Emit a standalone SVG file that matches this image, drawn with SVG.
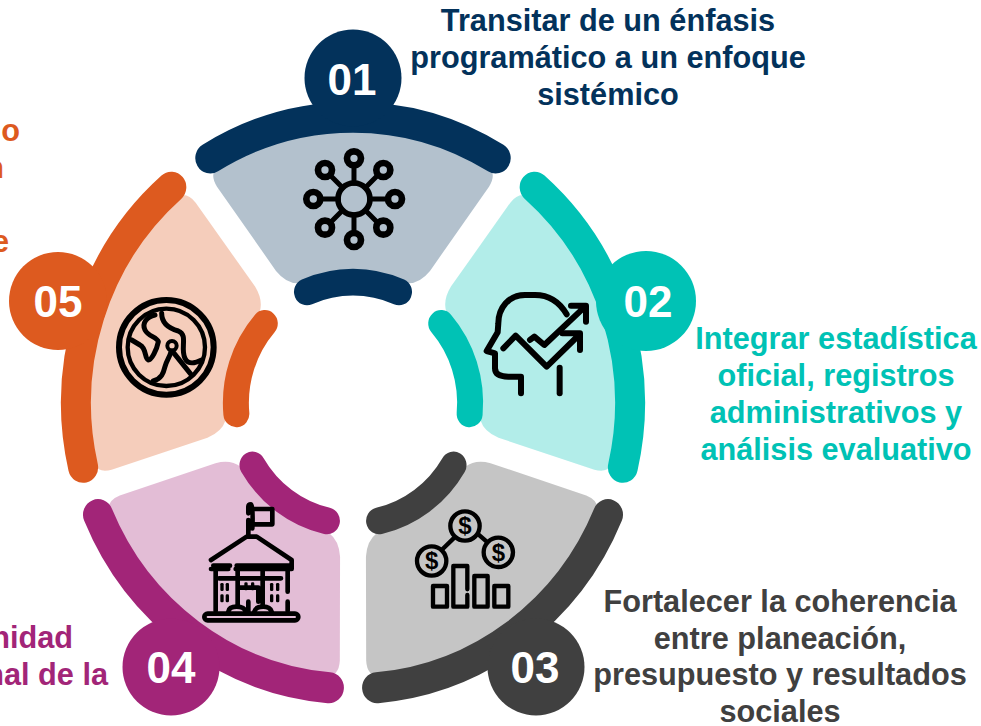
<svg xmlns="http://www.w3.org/2000/svg" width="981" height="726" viewBox="0 0 981 726">
<style>
text{font-family:"Liberation Sans",Arial,sans-serif;font-weight:700}
.lab{font-size:30.7px;text-anchor:middle;fill:currentColor}
.labe{font-size:30.7px;text-anchor:end;fill:currentColor}
.num{font-size:44px;text-anchor:middle;fill:#fff}
.ic{fill:none;stroke:#000;stroke-linecap:round;stroke-linejoin:round}
.c1{color:#03325B}.c2{color:#00C2B5}.c3{color:#404040}.c4{color:#A22578}.c5{color:#DD5A1F}
.dot{fill:#000;stroke:none}
.dollar{font-size:72px;text-anchor:middle;fill:#000}
</style>
<defs>
<path id="light" fill="currentColor" fill-opacity=".3" d="M-122-236A270 270 0 0 1 122-236Q148-228 136-209.600L77-128Q67-116 55-116L-55-116Q-67-116-77-128L-136-209.600Q-148-228-122-236Z"/>
<path id="outer" fill="none" stroke="currentColor" stroke-width="30" stroke-linecap="round" d="M-142.700-237.400A277 277 0 0 1 142.700-237.400"/>
<path id="inner" fill="none" stroke="currentColor" stroke-width="26" stroke-linecap="round" d="M-46-107.700A117 117 0 0 1 46-107.700"/>
</defs>
<g id="connectors"></g>

<g id="node-01" class="c1">
<g transform="translate(353 403) scale(1 1.032)"><use href="#light"/><use href="#outer"/><use href="#inner"/></g>
<circle cx="353" cy="78" r="48.500" fill="currentColor"/>
<text class="num" x="352" y="95">01</text>
<g class="ic" transform="translate(180 20) scale(.3333)" stroke-width="15">
<circle cx="522" cy="537" r="48" stroke-width="17"/>
<path d="M522 440V490M522 584V640M424 537H475M569 537H625M453 468L488 503M591 468L556 503M453 606L488 571M591 606L556 571"/>
<g stroke-width="20">
<circle cx="522" cy="415" r="21"/><circle cx="610" cy="450" r="21"/><circle cx="645" cy="537" r="21"/><circle cx="610" cy="623" r="21"/><circle cx="522" cy="660" r="21"/><circle cx="435" cy="623" r="21"/><circle cx="400" cy="537" r="21"/><circle cx="435" cy="450" r="21"/>
</g>
</g>
<text class="lab" x="608" y="31">Transitar de un énfasis</text>
<text class="lab" x="608" y="68">programático a un enfoque</text>
<text class="lab" x="608" y="105">sistémico</text>
</g>

<g id="node-02" class="c2">
<g transform="translate(353 403) scale(1 1.032) rotate(72)"><use href="#light"/><use href="#outer"/><use href="#inner"/></g>
<circle cx="646" cy="301" r="50" fill="currentColor"/>
<text class="num" x="648" y="317">02</text>
<g class="ic" transform="translate(475 285) scale(.3333)" stroke-width="18">
<path d="M275 88C250 45 215 30 180 30L150 30C100 30 70 70 70 115L68 142L35 198L60 205L60 250C60 270 80 275 100 275L138 275L138 325"/>
<path d="M85 190L122 152L215 245L312 150M262 145L315 145L315 195"/>
<path d="M165 165L178 155L208 180L330 65M288 62L333 62L333 110"/>
<path d="M254 248V325"/>
</g>
<text class="lab" x="836" y="349">Integrar estadística</text>
<text class="lab" x="836" y="386">oficial, registros</text>
<text class="lab" x="836" y="423">administrativos y</text>
<text class="lab" x="836" y="460">análisis evaluativo</text>
</g>

<g id="node-03" class="c3">
<g transform="translate(353 403) scale(1 1.032) rotate(144)"><use href="#light"/><use href="#outer"/><use href="#inner"/></g>
<circle cx="536" cy="667" r="48.500" fill="currentColor"/>
<text class="num" x="535" y="683">03</text>
<g class="ic" transform="translate(405 500) scale(.3333)" stroke-width="13">
<circle cx="180" cy="78" r="44"/><circle cx="80" cy="183" r="44"/><circle cx="280" cy="157" r="44"/>
<path d="M145 116L110 150M220 103L246 126"/>
<rect x="84" y="258" width="42" height="62"/>
<path d="M166 320H145V198H187V268M187 285V320H166"/>
<rect x="208" y="228" width="40" height="92"/>
<rect x="268" y="258" width="42" height="62"/>
</g>
<g transform="translate(405 500) scale(.3333)">
<text class="dollar" x="180" y="103">$</text><text class="dollar" x="80" y="208">$</text><text class="dollar" x="280" y="182">$</text>
</g>
<text class="lab" x="780" y="612">Fortalecer la coherencia</text>
<text class="lab" x="780" y="649">entre planeación,</text>
<text class="lab" x="780" y="685">presupuesto y resultados</text>
<text class="lab" x="780" y="722">sociales</text>
</g>

<g id="node-04" class="c4">
<g transform="translate(353 403) scale(1 1.032) rotate(216)"><use href="#light"/><use href="#outer"/><use href="#inner"/></g>
<circle cx="171" cy="667" r="48.500" fill="currentColor"/>
<text class="num" x="171" y="683">04</text>
<g class="ic" transform="translate(195 495) scale(.3333)" stroke-width="14">
<path d="M160 122V75M160 55V35Q160 28 168 28Q175 35 172 100"/>
<path d="M175 42H232V88H175"/>
<path d="M48 195L155 125H185L290 195V222H122M100 222H48Z"/>
<path d="M55 212H105M125 212H285"/>
<path d="M62 225V348M278 225V290M278 320V348M128 228V335M203 228V335M72 250H258M130 278H190V320M160 320V350"/>
<path d="M100 350Q102 335 125 335Q148 335 152 350M178 350Q182 335 205 335Q225 335 230 350"/>
<rect x="28" y="356" width="282" height="20" rx="10"/>
<rect class="dot" x="76" y="264" width="10" height="24" rx="4"/><rect class="dot" x="92" y="264" width="10" height="24" rx="4"/>
<rect class="dot" x="76" y="298" width="10" height="24" rx="4"/><rect class="dot" x="92" y="298" width="10" height="24" rx="4"/>
<rect class="dot" x="148" y="262" width="10" height="24" rx="4"/><rect class="dot" x="168" y="262" width="10" height="24" rx="4"/>
<rect class="dot" x="225" y="264" width="10" height="24" rx="4"/><rect class="dot" x="243" y="264" width="10" height="24" rx="4"/>
<rect class="dot" x="225" y="298" width="10" height="24" rx="4"/><rect class="dot" x="243" y="298" width="10" height="24" rx="4"/>
</g>
<text class="labe" x="73" y="648">nidad</text>
<text class="labe" x="108" y="685">nal de la</text>
</g>

<g id="node-05" class="c5">
<g transform="translate(353 403) scale(1 1.032) rotate(288)"><use href="#light"/><use href="#outer"/><use href="#inner"/></g>
<circle cx="58" cy="301" r="49" fill="currentColor"/>
<text class="num" x="58" y="317">05</text>
<g class="ic" transform="translate(105 295) scale(.3333)" stroke-width="15">
<circle cx="184" cy="157" r="142" stroke-width="18"/>
<circle cx="184" cy="157" r="116" stroke-width="13"/>
<path d="M150 60C125 65 110 85 120 105C130 125 155 125 160 140C155 165 140 195 130 195C118 190 125 160 105 150L80 135"/>
<path d="M170 55C170 85 190 100 220 108C250 120 225 160 240 190C250 210 270 205 290 195"/>
<path d="M145 258C170 250 175 235 180 215C185 195 195 185 198 170"/>
<path d="M205 172L258 238"/>
<circle cx="201" cy="152" r="14" stroke-width="12"/>
</g>
<text class="labe" x="20" y="141">o</text>
<text class="labe" x="4" y="178">n</text>
<text class="labe" x="9" y="252">e</text>
</g>
</svg>
